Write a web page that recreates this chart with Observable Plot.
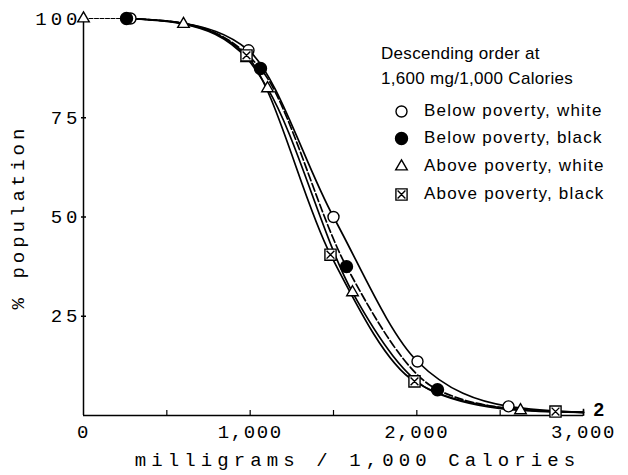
<!DOCTYPE html>
<html>
<head>
<meta charset="utf-8">
<script src="https://cdn.jsdelivr.net/npm/d3@7"></script>
<script src="https://cdn.jsdelivr.net/npm/@observablehq/plot@0.6"></script>
<style>
  html, body { margin: 0; padding: 0; background: #fff; }
  #wrap { position: relative; width: 628px; height: 475px; }
  #legend { position: absolute; left: 381px; top: 41px; font-family: "Liberation Sans", Arial, sans-serif; font-size: 17px; color: #000; }
  #legend .head { line-height: 25px; letter-spacing: 0.3px; }
  #legend .item { display: flex; align-items: center; height: 27.6px; margin-left: 10px; letter-spacing: 1.2px; }
  #legend .item svg { width: 20px; height: 20px; margin-right: 13px; overflow: visible; }
  #legend .items { margin-top: 6px; }
</style>
</head>
<body>
<div id="wrap">
  <div id="chart"></div>
  <div id="legend"></div>
</div>
<script>
// ---- data ----
const seriesNames = ["Below poverty, white", "Below poverty, black", "Above poverty, white", "Above poverty, black"];
const legendTitle = ["Descending order at", "1,600 mg/1,000 Calories"];

// marker points (mg / 1,000 Calories, % population)
const belowWhiteMarkX = [282, 990, 1500, 2004, 2550];
const belowWhiteMarkY = [100, 92, 50, 13.6, 2.3];
const belowBlackMarkX = [258, 1062, 1578, 2124];
const belowBlackMarkY = [100, 87.4, 37.5, 6.5];
const aboveWhiteMarkX = [0, 600, 980, 1104, 1614, 2622];
const aboveWhiteMarkY = [100, 98.6, 90, 82.4, 31, 1.3];
const aboveBlackMarkX = [978, 1482, 1986, 2832];
const aboveBlackMarkY = [90.7, 40.5, 8.6, 1];

// curve points (line paths)
const belowWhiteLineX = [282, 600, 990, 1500, 2004, 2550, 3000];
const belowWhiteLineY = [100, 98.8, 92, 50, 13.6, 2.3, 0.8];
const belowBlackLineX = [258, 600, 1062, 1578, 2124, 2600, 3000];
const belowBlackLineY = [100, 98.8, 87.4, 37.5, 6.5, 1.6, 0.8];
const aboveWhiteLineX = [258, 600, 980, 1104, 1614, 2100, 2622, 3000];
const aboveWhiteLineY = [100, 98.6, 90, 82.4, 31, 6, 1.3, 0.8];
const aboveBlackLineX = [290, 600, 978, 1482, 1986, 2500, 2832, 3000];
const aboveBlackLineY = [100, 98.7, 90.7, 40.5, 8.6, 2, 1, 0.8];
// thin lead-in from the first triangle
const leadX = [0, 258];
const leadY = [100, 100];

const xTickLabels = [0, 1000, 2000, 3000];
const xTickMarks = [500, 1000, 1500, 2000, 2500, 3000];
const yTicks = [25, 50, 75, 100];
const endNote = [{x: 3000, y: 0.8, text: "2"}];
const xLabel = "milligrams / 1,000 Calories";
const yLabel = "% population";

// ---- build tables ----
function table(xs, ys, s) { return xs.map((x, i) => ({x, y: ys[i], s})); }
const lines = [
  table(belowWhiteLineX, belowWhiteLineY, seriesNames[0]),
  table(belowBlackLineX, belowBlackLineY, seriesNames[1]),
  table(aboveWhiteLineX, aboveWhiteLineY, seriesNames[2]),
  table(aboveBlackLineX, aboveBlackLineY, seriesNames[3])
];
const marks = [
  table(belowWhiteMarkX, belowWhiteMarkY, seriesNames[0]),
  table(belowBlackMarkX, belowBlackMarkY, seriesNames[1]),
  table(aboveWhiteMarkX, aboveWhiteMarkY, seriesNames[2]),
  table(aboveBlackMarkX, aboveBlackMarkY, seriesNames[3])
];
const lead = table(leadX, leadY, seriesNames[2]);

const squareX = {
  draw(context, size) {
    const s = Math.sqrt(size) / 2;
    context.moveTo(-s, -s); context.lineTo(s, -s); context.lineTo(s, s); context.lineTo(-s, s); context.closePath();
    context.moveTo(-s * 0.7, -s * 0.7); context.lineTo(s * 0.7, s * 0.7);
    context.moveTo(s * 0.7, -s * 0.7); context.lineTo(-s * 0.7, s * 0.7);
  }
};
const vBar = {
  draw(context, size) {
    const s = Math.sqrt(size) / 2;
    context.moveTo(0, -s); context.lineTo(0, s);
  }
};
const styles = [
  {symbol: "circle", fill: "white", r: 5.5},
  {symbol: "circle", fill: "black", r: 6},
  {symbol: "triangle", fill: "white", r: 4.3},
  {symbol: squareX, fill: "white", r: 6.3}
];
const dashes = [null, "8,3", null, null];

const tickFont = {fontFamily: "'Liberation Mono', 'DejaVu Sans Mono', monospace", fontSize: 19};

const plot = Plot.plot({
  width: 628,
  height: 475,
  marginLeft: 83,
  marginRight: 45,
  marginTop: 18,
  marginBottom: 60,
  x: {domain: [0, 3000]},
  y: {domain: [0, 100]},
  style: {background: "white", color: "black", overflow: "visible"},
  marks: [
    Plot.ruleX([0], {strokeWidth: 1.5}),
    Plot.ruleY([0], {strokeWidth: 1.5}),
    Plot.axisY({ticks: yTicks, tickSize: 5, tickPadding: 0, dx: 3, label: null, ...tickFont, strokeWidth: 1.5}),
    Plot.axisX({ticks: xTickMarks, tickSize: 5, dy: -5, text: null, label: null, strokeWidth: 1.2}),
    Plot.axisX({ticks: xTickLabels, tickSize: 0, tickPadding: 9, tickFormat: d3.format(","), label: null, ...tickFont}),
    Plot.line(lead, {x: "x", y: "y", stroke: "black", strokeWidth: 1, strokeDasharray: "4,1.5"}),
    ...lines.map((d, i) => Plot.line(d, {x: "x", y: "y", curve: "monotone-x", stroke: "black", strokeWidth: 1.7, strokeDasharray: dashes[i]})),
    Plot.dot(endNote, {x: "x", y: "y", symbol: vBar, r: 4, stroke: "black", strokeWidth: 1.6}),
    ...marks.map((d, i) => Plot.dot(d, {x: "x", y: "y", symbol: styles[i].symbol, r: styles[i].r, fill: styles[i].fill, stroke: "black", strokeWidth: 1.4})),
    Plot.text(endNote, {x: "x", y: "y", text: "text", textAnchor: "start", dx: 10, dy: -2, fontFamily: "'Liberation Sans', Arial, sans-serif", fontSize: 19, fontWeight: "bold"}),
    Plot.text([xLabel], {frameAnchor: "bottom", text: d => d, dy: 50, dx: 24, ...tickFont}),
    Plot.text([yLabel], {frameAnchor: "left", text: d => d, rotate: -90, textAnchor: "middle", dx: -66, ...tickFont})
  ]
});
document.getElementById("chart").appendChild(plot);

// letter spacing for the plotter-style lettering
const svg = d3.select(plot);
svg.selectAll("g[aria-label='y-axis tick label'] text").attr("letter-spacing", 4);
svg.selectAll("g[aria-label='x-axis tick label'] text").attr("letter-spacing", 1.6);
svg.selectAll("g[aria-label='text'] text").filter(function() { return this.textContent === xLabel; }).attr("letter-spacing", 5.1);
svg.selectAll("g[aria-label='text'] text").filter(function() { return this.textContent === yLabel; }).attr("letter-spacing", 4);

// ---- legend ----
const leg = document.getElementById("legend");
legendTitle.forEach(t => { const d = document.createElement("div"); d.className = "head"; d.textContent = t; leg.appendChild(d); });
const items = document.createElement("div"); items.className = "items"; leg.appendChild(items);
seriesNames.forEach((name, i) => {
  const row = document.createElement("div"); row.className = "item";
  const sym = Plot.dot([0], {x: () => 0, y: () => 0, symbol: styles[i].symbol, r: styles[i].r, fill: styles[i].fill, stroke: "black", strokeWidth: 1.4})
    .plot({width: 20, height: 20, margin: 0, x: {domain: [-1, 1], axis: null}, y: {domain: [-1, 1], axis: null}});
  row.appendChild(sym);
  const t = document.createElement("span"); t.textContent = name; row.appendChild(t);
  items.appendChild(row);
});
</script>
</body>
</html>
